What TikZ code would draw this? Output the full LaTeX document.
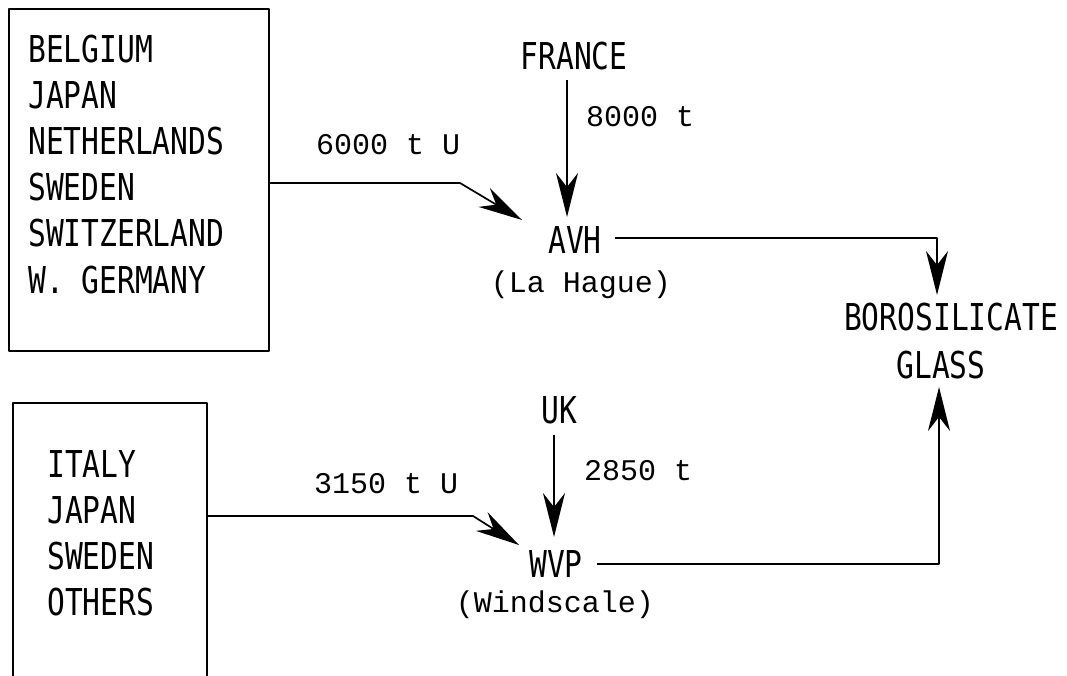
\documentclass[tikz,border=0pt]{standalone}
\usepackage{fontspec}
\usetikzlibrary{arrows.meta}
\newfontfamily\capfont[FakeStretch=0.8]{DejaVu Sans Mono}
\newfontfamily\typfont{Liberation Mono}
\begin{document}
\begin{tikzpicture}[x=1pt,y=-1pt,
  caplabel/.style={inner sep=0pt,font=\capfont\fontsize{37}{45}\selectfont},
  qtylabel/.style={inner sep=0pt,font=\typfont\fontsize{30}{36}\selectfont},
  boxline/.style={line width=1.7pt,line join=round},
  flow/.style={line width=1.7pt,line join=round,-{Stealth[length=44pt,width=22pt,inset=14pt]}}]
\useasboundingbox (0,0) rectangle (1067,676);
% top box
\node[boxline,draw,anchor=north west,minimum width=260pt,minimum height=342pt,inner sep=0pt] (box1) at (8,8) {};
\foreach \t [count=\i] in {BELGIUM,JAPAN,NETHERLANDS,SWEDEN,SWITZERLAND,W. GERMANY}
  \node[caplabel,anchor=base west] (a\i) at (28,{63+46*(\i-1)}) {\t};
% bottom box (open at the bottom)
\coordinate (b1) at (13,676);
\coordinate (b2) at (13,403);
\coordinate (b3) at (207,403);
\coordinate (b4) at (207,676);
\draw[boxline] (b1) -- (b2) -- (b3) -- (b4);
\foreach \t [count=\i] in {ITALY,JAPAN,SWEDEN,OTHERS}
  \node[caplabel,anchor=base west] (c\i) at (47,{477+46*(\i-1)}) {\t};
% process nodes
\node[caplabel,anchor=base] (france) at (574,70) {FRANCE};
\node[caplabel,anchor=base] (avh) at (575,253) {AVH};
\node[qtylabel,anchor=base] (lahague) at (581,292) {(La Hague)};
\node[caplabel,anchor=base] (uk) at (559,423) {UK};
\node[caplabel,anchor=base] (wvp) at (556,577) {WVP};
\node[qtylabel,anchor=base] (windscale) at (555,612) {(Windscale)};
\node[caplabel,anchor=base] (boro) at (951,330) {BOROSILICATE};
\node[caplabel,anchor=base] (glass) at (941,378) {GLASS};
% quantity labels
\node[qtylabel,anchor=base west] (q1) at (316,155) {6000 t U};
\node[qtylabel,anchor=base west] (q2) at (586,127) {8000 t};
\node[qtylabel,anchor=base west] (q3) at (314,493) {3150 t U};
\node[qtylabel,anchor=base west] (q4) at (584,480) {2850 t};
% connectors
\coordinate (s1) at (268,183);
\coordinate (k1) at (460,183);
\coordinate (e1) at (522,220);
\draw[flow] (s1) -- (k1) -- (e1);
\coordinate (s2) at (567,80);
\coordinate (e2) at (567,217);
\draw[flow] (s2) -- (e2);
\coordinate (s3) at (615,238);
\coordinate (k3) at (937,238);
\coordinate (e3) at (937,295);
\draw[flow] (s3) -- (k3) -- (e3);
\coordinate (s4) at (207,516);
\coordinate (k4) at (473,516);
\coordinate (e4) at (519,545);
\draw[flow] (s4) -- (k4) -- (e4);
\coordinate (s5) at (554,435);
\coordinate (e5) at (554,537);
\draw[flow] (s5) -- (e5);
\coordinate (s6) at (597,564);
\coordinate (k6) at (939,564);
\coordinate (e6) at (939,387);
\draw[flow] (s6) -- (k6) -- (e6);
\end{tikzpicture}
\end{document}
